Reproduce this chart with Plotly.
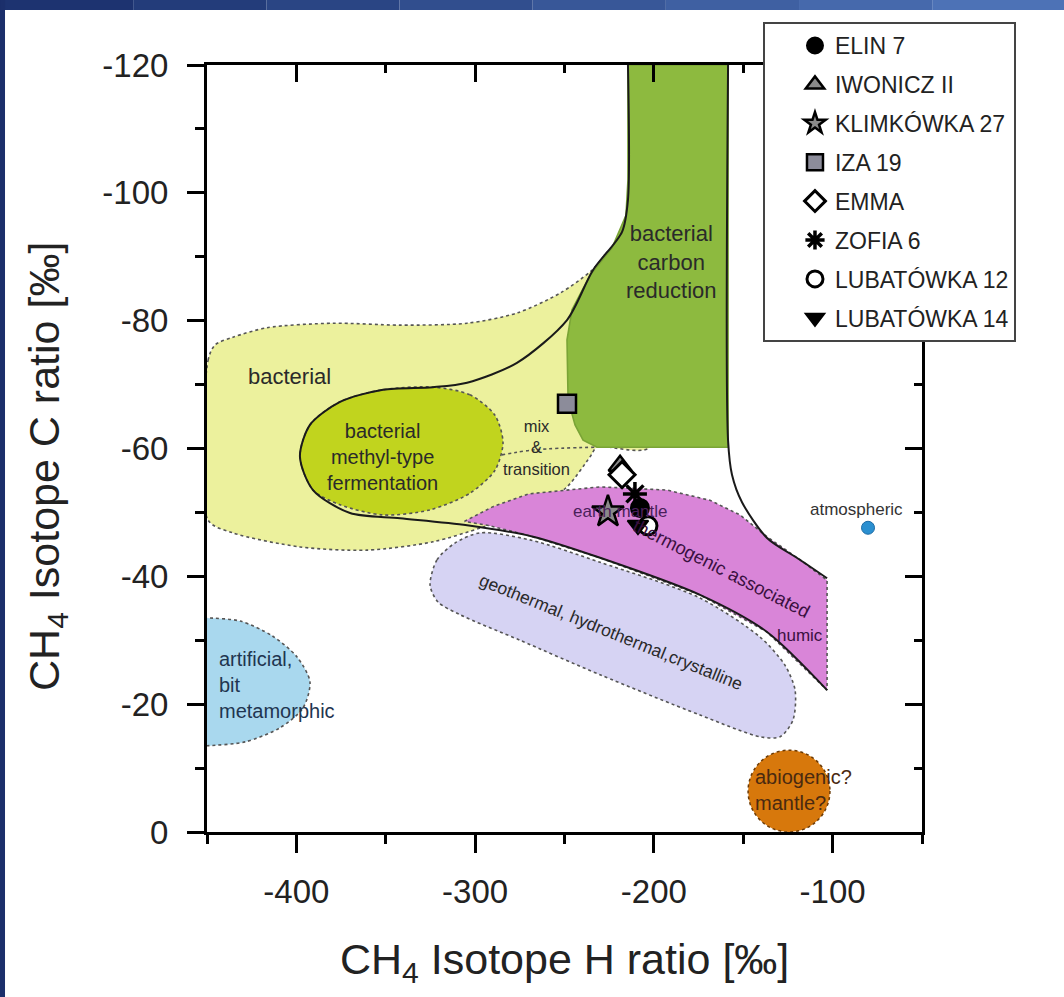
import plotly.graph_objects as go

# ---------------- data ----------------
# sample points (dD CH4, d13C CH4) in permil
SERIES = ["ELIN 7", "IWONICZ II", "KLIMKÓWKA 27", "IZA 19", "EMMA", "ZOFIA 6", "LUBATÓWKA 12", "LUBATÓWKA 14"]
D_H = [-207.8, -218.9, -225.7, -248.6, -217.8, -210.6, -203.3, -208.9]
D_C = [-50.7, -57.3, -50.1, -67.0, -55.9, -52.9, -47.9, -48.0]

# genetic fields (outlines in axis units)
BACT_X = [-449.4, -449.4, -445.5, -435.5, -416.4, -379.5, -342.0, -304.5, -276.6, -252.5, -235.0, -220.0, -202.2,
          -202.2, -231.8, -235.7, -248.6, -267.6, -295.6, -323.6, -360.5, -398.0, -435.5, -449.4]
BACT_Y = [-48.8, -73.8, -76.2, -77.4, -78.9, -79.6, -79.3, -79.6, -81.2, -84.3, -87.8, -92.0, -83.2,
          -60.2, -60.2, -58.7, -54.0, -50.4, -47.7, -45.4, -44.1, -44.6, -46.8, -48.8]

CARB_X = [-214.5, -158.5, -158.5, -231.8, -239.6, -244.1, -248.0, -248.6, -245.8, -235.7, -223.4, -215.6, -214.5, -214.5]
CARB_Y = [-120.0, -120.0, -60.2, -60.2, -61.3, -63.7, -67.6, -77.0, -81.7, -87.1, -91.4, -96.5, -102.0, -120.0]

METH_X = [-323.6, -302.9, -288.9, -284.4, -288.9, -302.9, -325.2, -351.5, -375.6, -390.7, -398.0, -392.4, -375.6, -351.5, -323.6]
METH_Y = [-69.6, -68.4, -65.2, -60.9, -56.6, -53.0, -50.4, -49.6, -51.2, -53.5, -58.7, -63.7, -67.3, -69.2, -69.6]

MIX_X = [-285.0, -266.5, -231.8]
MIX_Y = [-59.0, -59.8, -60.2]

THERM_X = [-306.0, -290.0, -270.0, -230.1, -192.7, -168.6, -151.8, -136.7, -118.3, -103.1,
           -103.1, -136.7, -174.2, -230.1, -267.6, -291.6, -306.0]
THERM_Y = [-48.6, -50.9, -52.9, -54.0, -53.5, -51.9, -49.6, -46.2, -42.6, -39.4,
           -22.2, -31.3, -37.1, -42.9, -46.2, -47.9, -48.6]

GEO_X = [-325.2, -321.3, -311.3, -297.3, -269.3, -230.1, -174.2, -140.6, -126.7, -121.0, -122.2, -129.4,
         -140.6, -174.2, -230.1, -274.9, -308.5, -320.8, -325.2]
GEO_Y = [-38.6, -42.6, -45.2, -46.8, -45.7, -42.2, -36.6, -30.5, -26.1, -22.2, -17.5, -14.9,
         -14.9, -18.3, -24.6, -30.0, -34.0, -36.0, -38.6]

ART_X = [-455.0, -450.0, -431.5, -413.6, -399.7, -392.4, -396.3, -409.2, -428.7, -450.0, -455.0]
ART_Y = [-33.5, -33.5, -33.0, -30.7, -27.4, -23.5, -19.4, -16.3, -14.1, -13.5, -13.5]

ABIO_CENTER = [-124.4, -6.4]
ABIO_RADIUS = [22.9, 6.4]

ATMOS = [-80.2, -47.6]

LINE_A_X = [-214.5, -214.5, -217.8, -234.1, -248.6, -276.6, -304.5, -323.6, -351.5, -375.6, -392.4, -398.0,
            -390.7, -370.0, -342.0, -304.5, -267.6, -230.1, -174.2, -136.7, -103.1]
LINE_A_Y = [-120.0, -98.9, -93.9, -87.9, -80.1, -73.4, -70.3, -69.6, -69.2, -67.3, -63.7, -58.7,
            -53.5, -49.9, -49.1, -48.0, -46.2, -42.9, -37.1, -31.3, -22.2]
LINE_B_X = [-158.5, -158.5, -156.3, -150.7, -136.7, -118.3, -103.1]
LINE_B_Y = [-120.0, -61.3, -55.9, -51.6, -46.0, -42.6, -39.7]

X_TICKS = [-400, -300, -200, -100]
X_TICK_LABELS = ["-400", "-300", "-200", "-100"]
X_MINOR = [-450, -350, -250, -150, -50]
Y_TICKS = [-120, -100, -80, -60, -40, -20, 0]
Y_TICK_LABELS = ["-120", "-100", "-80", "-60", "-40", "-20", "0"]
Y_MINOR = [-110, -90, -70, -50, -30, -10]
X_RANGE = [-450, -50]
Y_RANGE = [0, -120]

# ---------------- figure ----------------
FONT = "Liberation Sans, Arial, sans-serif"
fig = go.Figure()

def field(x, y, fill, shape="spline", dash="dot", lc="#555555"):
    fig.add_trace(go.Scatter(x=x, y=y, mode="lines", fill="toself", fillcolor=fill,
                             line=dict(color=lc, width=1.6, dash=dash, shape=shape, smoothing=0.8),
                             hoverinfo="skip", showlegend=False))

field(BACT_X, BACT_Y, "#ecf19d")
field(METH_X, METH_Y, "#c1d41e")
field(CARB_X, CARB_Y, "#8dba3f", shape="linear", dash="solid", lc="#7aa436")
field(GEO_X, GEO_Y, "#d6d3f3")
field(THERM_X, THERM_Y, "#d985d8", shape="linear")
field(ART_X, ART_Y, "#a9d8ee")

fig.add_trace(go.Scatter(x=MIX_X, y=MIX_Y, mode="lines", line=dict(color="#555555", width=1.6, dash="dot", shape="spline"),
                         hoverinfo="skip", showlegend=False))
for lx, ly in [(LINE_A_X, LINE_A_Y), (LINE_B_X, LINE_B_Y)]:
    fig.add_trace(go.Scatter(x=lx, y=ly, mode="lines", line=dict(color="#1a1a1a", width=2, shape="spline", smoothing=0.8),
                             hoverinfo="skip", showlegend=False))

fig.add_shape(type="circle", xref="x", yref="y",
              x0=ABIO_CENTER[0] - ABIO_RADIUS[0], x1=ABIO_CENTER[0] + ABIO_RADIUS[0],
              y0=ABIO_CENTER[1] - ABIO_RADIUS[1], y1=ABIO_CENTER[1] + ABIO_RADIUS[1],
              fillcolor="#d7780c", line=dict(color="#6b3a05", width=1.5, dash="dot"), layer="above")

fig.add_trace(go.Scatter(x=[ATMOS[0]], y=[ATMOS[1]], mode="markers",
                         marker=dict(size=13, color="#2a8fd0", line=dict(color="#1b6aa5", width=1)),
                         hoverinfo="skip", showlegend=False))

# sample markers
STYLES = {
    "ELIN 7": dict(symbol="circle", color="black", line=dict(color="black", width=2), size=18),
    "IWONICZ II": dict(symbol="triangle-up", color="#8a8a8a", line=dict(color="black", width=2.5), size=20),
    "KLIMKÓWKA 27": dict(symbol="star", color="#8a8a8a", line=dict(color="black", width=2.5), size=24),
    "IZA 19": dict(symbol="square", color="#8c8c9a", line=dict(color="black", width=2.5), size=18),
    "EMMA": dict(symbol="diamond", color="white", line=dict(color="black", width=3), size=20),
    "ZOFIA 6": dict(symbol="asterisk-open", color="black", line=dict(color="black", width=3.5), size=20),
    "LUBATÓWKA 12": dict(symbol="circle", color="white", line=dict(color="black", width=3), size=18),
    "LUBATÓWKA 14": dict(symbol="triangle-down", color="black", line=dict(color="black", width=2), size=18),
}
for i, name in enumerate(SERIES):
    fig.add_trace(go.Scatter(x=[D_H[i]], y=[D_C[i]], mode="markers", name=name, legendgroup=name,
                             marker=STYLES[name], hoverinfo="name"))

# dummy trace for mirrored inside-tick axes
fig.add_trace(go.Scatter(x=[None], y=[None], xaxis="x2", yaxis="y2", showlegend=False, hoverinfo="skip"))

# field labels
LABELS = [
    ("bacterial", -403.6, -71.2, 22, 0, "#2a2a2a", "center"),
    ("bacterial<br>methyl-type<br>fermentation", -352.1, -58.7, 20, 0, "#2a2a2a", "center"),
    ("mix<br>&<br>transition", -265.4, -60.2, 16.5, 0, "#2a2a2a", "center"),
    ("bacterial<br>carbon<br>reduction", -189.9, -89.2, 22, 0, "#2a2a2a", "center"),
    ("earth mantle", -218.9, -50.1, 17, 0, "#4a1f5a", "center"),
    ("thermogenic associated", -161.9, -41.3, 18.5, 27, "#3a1040", "center"),
    ("humic", -118.3, -30.7, 17, 0, "#3a1040", "center"),
    ("geothermal, hydrothermal,crystalline", -224.0, -31.3, 17.5, 22, "#2a2a2a", "center"),
    ("atmospheric", -86.4, -50.4, 17, 0, "#333333", "center"),
]
for txt, x, y, fs, ang, col, al in LABELS:
    fig.add_annotation(x=x, y=y, xref="x", yref="y", text=txt, showarrow=False, textangle=ang,
                       font=dict(family=FONT, size=fs, color=col), align=al)
fig.add_annotation(x=-444.4, y=-23.0, xref="x", yref="y", text="artificial,<br>bit<br>metamorphic",
                   showarrow=False, xanchor="left", align="left", font=dict(family=FONT, size=20, color="#1f3550"))
fig.add_annotation(x=-144.5, y=-6.6, xref="x", yref="y", text="abiogenic?<br>mantle?",
                   showarrow=False, xanchor="left", align="left", font=dict(family=FONT, size=20, color="#4a2a10"))

# axis titles
fig.add_annotation(x=0.5, y=-0.1695, xref="paper", yref="paper", text="CH<sub>4</sub> Isotope H ratio [‰]",
                   showarrow=False, xanchor="center", yanchor="middle", font=dict(family=FONT, size=43, color="#222"))
fig.add_annotation(x=-0.2238, y=0.4772, xref="paper", yref="paper", text="CH<sub>4</sub> Isotope C ratio [‰]",
                   showarrow=False, textangle=-90, xanchor="center", yanchor="middle",
                   font=dict(family=FONT, size=43, color="#222"))

# blue frame strips
cols = ["#1d3370", "#233c7a", "#2a4584", "#314e8e", "#385798", "#3f60a2", "#4669ac", "#4d72b6"]
for k, c in enumerate(cols):
    fig.add_shape(type="rect", xref="paper", yref="paper", x0=-0.2895 + k * 1.49 / 8, x1=-0.2895 + (k + 1) * 1.49 / 8,
                  y0=1.0717, y1=1.0847, fillcolor=c, line=dict(width=0), layer="above")
fig.add_shape(type="rect", xref="paper", yref="paper", x0=-0.2895, x1=-0.2825, y0=-0.2152, y1=1.0847,
              fillcolor="#1b2f6b", line=dict(width=0), layer="above")

axis_common = dict(showgrid=False, zeroline=False, color="black")
fig.update_layout(
    width=1064, height=997, autosize=False,
    margin=dict(l=207, r=142, t=65, b=165),
    paper_bgcolor="white", plot_bgcolor="white",
    font=dict(family=FONT, color="#222"),
    xaxis=dict(range=X_RANGE, tickmode="array", tickvals=X_TICKS, ticktext=X_TICK_LABELS,
               ticks="outside", ticklen=18, tickwidth=3, tickcolor="black",
               minor=dict(tickmode="array", tickvals=X_MINOR, ticks="outside", ticklen=9, tickwidth=3, tickcolor="black"),
               showline=True, linewidth=3, linecolor="black", mirror=True,
               tickfont=dict(family=FONT, size=33, color="#222"), ticklabelstandoff=10, **axis_common),
    yaxis=dict(range=Y_RANGE, tickmode="array", tickvals=Y_TICKS, ticktext=Y_TICK_LABELS,
               ticks="outside", ticklen=17, tickwidth=3, tickcolor="black",
               minor=dict(tickmode="array", tickvals=Y_MINOR, ticks="outside", ticklen=9, tickwidth=3, tickcolor="black"),
               showline=True, linewidth=3, linecolor="black", mirror=True,
               tickfont=dict(family=FONT, size=33, color="#222"), ticklabelstandoff=12, **axis_common),
    xaxis2=dict(range=X_RANGE, overlaying="x", side="top", anchor="y2", tickmode="array", tickvals=X_TICKS,
                ticks="inside", ticklen=17, tickwidth=3, tickcolor="black", showticklabels=False, showline=False,
                minor=dict(tickmode="array", tickvals=X_MINOR, ticks="inside", ticklen=8, tickwidth=3, tickcolor="black"),
                **axis_common),
    yaxis2=dict(range=Y_RANGE, overlaying="y", side="right", anchor="x2", tickmode="array", tickvals=Y_TICKS,
                ticks="inside", ticklen=17, tickwidth=3, tickcolor="black", showticklabels=False, showline=False,
                minor=dict(tickmode="array", tickvals=Y_MINOR, ticks="inside", ticklen=8, tickwidth=3, tickcolor="black"),
                **axis_common),
    legend=dict(x=0.7776, y=1.056, xanchor="left", yanchor="top", bgcolor="white",
                bordercolor="#444", borderwidth=2, font=dict(family=FONT, size=23, color="#222"),
                tracegroupgap=6, indentation=30, itemsizing="trace"),
    showlegend=True,
)

fig.write_html("out.html")
